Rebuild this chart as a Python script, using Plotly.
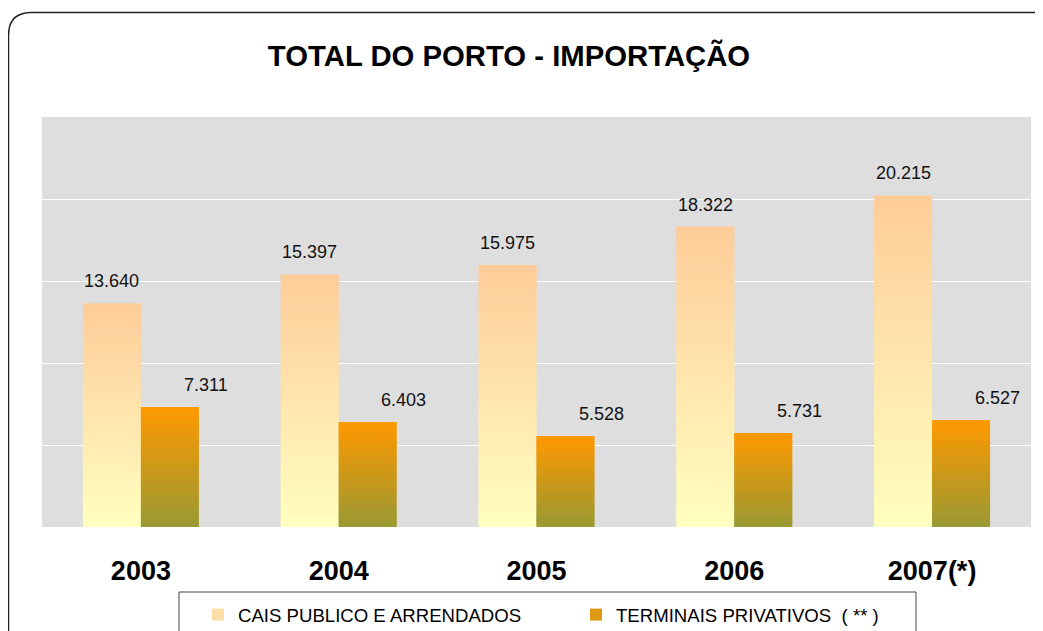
import plotly.graph_objects as go

# ---- data ----
categories = ["2003", "2004", "2005", "2006", "2007(*)"]
cais_publico = [13640, 15397, 15975, 18322, 20215]
terminais_privativos = [7311, 6403, 5528, 5731, 6527]
series_names = ["CAIS PUBLICO E ARRENDADOS", "TERMINAIS PRIVATIVOS  ( ** )"]

# ---- styling ----
FONT = "Liberation Sans, Arial, sans-serif"
OFF = 8                      # page body margin of the html page
W, H = 1043 - OFF, 631 - OFF
PL, PR, PT, PB = 42, 1031, 117, 527  # plot area in screen px
N_SEG = 60

grad1 = ((255, 255, 192), (254, 204, 153))   # bottom -> top
grad2 = ((153, 153, 51), (255, 153, 0))


def lerp(c0, c1, t):
    return "rgb(%d,%d,%d)" % tuple(round(a + (b - a) * t) for a, b in zip(c0, c1))


def px_x(p):
    return (p - PL) / (PR - PL)


def px_y(p):
    return (PB - p) / (PB - PT)


def fmt(v):
    return f"{v:,}".replace(",", ".")


fig = go.Figure()

for s_idx, (vals, grad, grp) in enumerate(
    [(cais_publico, grad1, "a"), (terminais_privativos, grad2, "b")]
):
    for i in range(N_SEG):
        t = (i + 0.5) / N_SEG
        col = lerp(grad[0], grad[1], t)
        show = i == int(N_SEG * 0.65)
        # each slice overlaps the next one slightly so no seams show
        ext = 1.6 if i < N_SEG - 1 else 1.0
        fig.add_trace(
            go.Bar(
                x=categories,
                y=[v * ext / N_SEG for v in vals],
                base=[v * i / N_SEG for v in vals],
                offsetgroup=grp,
                legendgroup=grp,
                name=series_names[s_idx],
                showlegend=show,
                marker=dict(color=col, line=dict(width=0)),
                hoverinfo="skip",
            )
        )

# data labels (x given as category index)
BAR_W = 58
for idx, v in enumerate(cais_publico):
    fig.add_annotation(x=idx, y=v, text=fmt(v), showarrow=False,
                       xshift=-BAR_W / 2, yshift=22, yanchor="middle",
                       font=dict(family=FONT, size=18, color="#111"))
for idx, v in enumerate(terminais_privativos):
    fig.add_annotation(x=idx, y=v, text=fmt(v), showarrow=False,
                       xshift=BAR_W / 2 + 36, yshift=22, yanchor="middle",
                       font=dict(family=FONT, size=18, color="#111"))

# outer rounded border
L, T, R, B, r = 8.5, 12.5, 1055, 660, 23
rx = r / (PR - PL)
ry = r / (PB - PT)
path = (
    f"M {px_x(L)},{px_y(B)} L {px_x(L)},{px_y(T) - ry} "
    f"Q {px_x(L)},{px_y(T)} {px_x(L) + rx},{px_y(T)} "
    f"L {px_x(R) - rx},{px_y(T)} "
    f"Q {px_x(R)},{px_y(T)} {px_x(R)},{px_y(T) - ry} "
    f"L {px_x(R)},{px_y(B)}"
)
fig.add_shape(type="path", xref="paper", yref="paper", path=path,
              line=dict(color="#222", width=1.5), layer="below")

# legend box
fig.add_shape(type="rect", xref="paper", yref="paper",
              x0=px_x(179), x1=px_x(916), y0=px_y(592), y1=px_y(660),
              line=dict(color="#444", width=1))

fig.update_layout(
    width=W, height=H,
    margin=dict(l=PL - OFF, r=1043 - PR, t=PT - OFF, b=631 - PB, pad=0, autoexpand=False),
    paper_bgcolor="white",
    plot_bgcolor="#dedede",
    barmode="group",
    bargap=0.414,
    bargroupgap=0,
    title=dict(text="<b>TOTAL DO PORTO - IMPORTAÇÃO</b>", x=(509 - OFF) / W, xref="container",
               xanchor="center", y=1 - (56 - OFF) / H, yref="container", yanchor="middle",
               font=dict(family=FONT, size=29.3, color="black")),
    showlegend=True,
    legend=dict(orientation="h", x=px_x(198), xanchor="left", y=px_y(615), yanchor="middle",
                bgcolor="rgba(0,0,0,0)", borderwidth=0,
                entrywidth=333, entrywidthmode="pixels",
                font=dict(family=FONT, size=18.6, color="black"),
                itemclick=False, itemdoubleclick=False),
    xaxis=dict(type="category", showline=False, ticks="", ticklabelstandoff=25,
               tickfont=dict(family=FONT, size=27, color="black", weight="bold"),
               showgrid=False, zeroline=False, automargin=False),
    yaxis=dict(range=[0, 25000], dtick=5000, showticklabels=False, showgrid=True,
               gridcolor="white", gridwidth=1, zeroline=False, showline=False,
               automargin=False),
)

fig.write_html("out.html")
